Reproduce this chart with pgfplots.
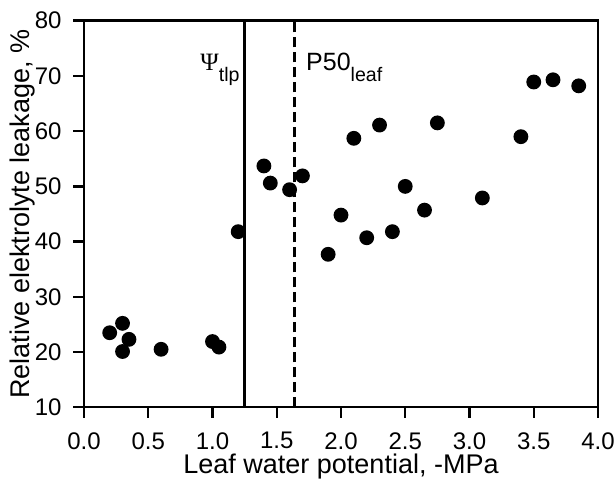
\documentclass[border=0pt]{standalone}
\usepackage{fontspec}
\setmainfont{Liberation Sans}
\newfontfamily\serifgreek{Liberation Serif}
\usepackage{pgfplots}
\pgfplotsset{compat=1.18}
\begin{document}
\begin{tikzpicture}
\begin{axis}[
  scale only axis, width=257pt, height=193.3pt,
  xmin=0, xmax=4, ymin=10, ymax=80,
  xtick={0,0.5,1,1.5,2,2.5,3,3.5,4}, ytick={10,20,30,40,50,60,70,80},
  tick align=outside, major tick length=5.3pt,
  xtick pos=bottom, ytick pos=left,
  line width=1.2pt,
  every tick/.style={line width=1.2pt, black},
  tick label style={font=\fontsize{12}{12}\selectfont},
  label style={font=\fontsize{13.5}{13.5}\selectfont},
  /pgf/number format/assume math mode=true,
  xticklabel style={yshift=-5.6pt, inner sep=1pt, /pgf/number format/.cd, fixed, fixed zerofill, precision=1},
  yticklabel style={xshift=-2pt},
  xlabel={Leaf water potential, -MPa},
  ylabel={Relative elektrolyte leakage, \%},
  xlabel style={at={(axis description cs:0.5,-0.170)}, anchor=base, inner sep=0pt},
  ylabel style={at={(axis description cs:-0.106,0.5)}, anchor=base, inner sep=0pt},
  clip=false,
]
\addplot[only marks, mark=*, mark size=3.1pt, black] coordinates {
(0.2,23.5) (0.3,25.2) (0.35,22.3) (0.3,20.1) (0.6,20.5) (1.0,21.9) (1.05,20.9)
(1.2,41.8) (1.4,53.7) (1.45,50.6) (1.6,49.4) (1.7,51.9)
(1.9,37.7) (2.0,44.8) (2.1,58.7) (2.2,40.7) (2.3,61.1) (2.4,41.8) (2.5,50.0)
(2.65,45.7) (2.75,61.5) (3.1,47.9) (3.4,59.0) (3.5,68.9) (3.65,69.3) (3.85,68.2)
};
\addplot[black, line width=1.2pt] coordinates {(1.25,10) (1.25,80)};
\addplot[black, line width=1.3pt, dash pattern=on 5pt off 2.5pt] coordinates {(1.64,10) (1.64,80)};
\node[anchor=base east, inner sep=0pt, font=\fontsize{12.5}{12.5}\selectfont] at (axis cs:1.22,71) {{\serifgreek Ψ}\raisebox{-5.5pt}{\fontsize{9.8}{9.8}\selectfont tlp}};
\node[anchor=base west, inner sep=0pt, font=\fontsize{12.5}{12.5}\selectfont] at (axis cs:1.72,71) {P50\raisebox{-5.5pt}{\fontsize{9.8}{9.8}\selectfont leaf}};
\end{axis}
\pgfresetboundingbox
\useasboundingbox ([xshift=-42pt,yshift=-35.85pt]current axis.south west) rectangle ([xshift=8.5pt,yshift=10.35pt]current axis.north east);
\end{tikzpicture}
\end{document}
